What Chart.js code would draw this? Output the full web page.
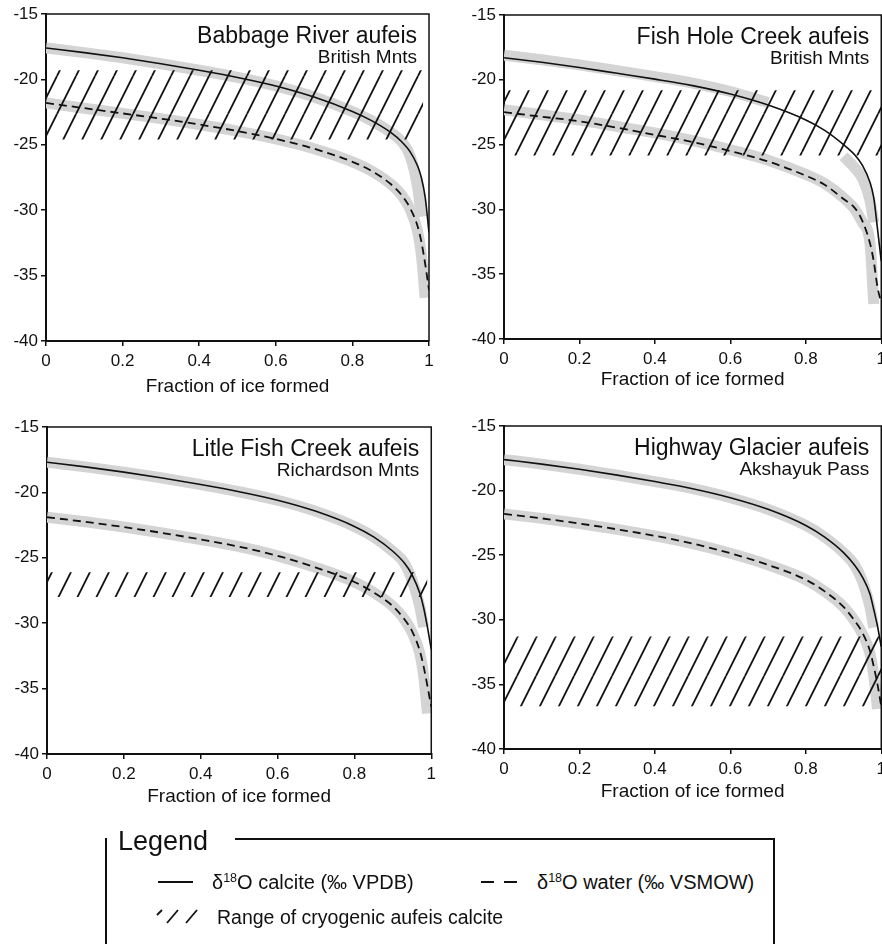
<!DOCTYPE html>
<html>
<head>
<meta charset="utf-8">
<script src="https://cdn.jsdelivr.net/npm/chart.js@4.4.1/dist/chart.umd.min.js"></script>
<style>
  html, body { margin: 0; padding: 0; width: 882px; height: 944px; overflow: hidden; background: #fff; }
  body { position: relative; font-family: "Liberation Sans", Arial, sans-serif; color: #111; }
  .panel { position: absolute; }
  #legendBox { position: absolute; left: 105px; top: 838px; width: 666px; height: 140px;
    border-left: 2px solid #111; border-top: 2px solid #111; border-right: 2px solid #111; }
  #legendTitle { position: absolute; left: 107px; top: 826px; width: 128px; height: 31px; background: #fff;
    font-size: 27px; line-height: 31px; padding-left: 11px; box-sizing: border-box; }
  .item { position: absolute; font-size: 20px; line-height: 22px; white-space: nowrap; }
  .item sup { font-size: 12.5px; vertical-align: 7px; line-height: 0; }
  .swatch { position: absolute; background: #111; height: 2px; }
</style>
</head>
<body>
<div class="panel" style="left:0;top:0"><canvas id="babbage" width="441" height="410"></canvas></div>
<div class="panel" style="left:441px;top:0"><canvas id="fishHole" width="450" height="410"></canvas></div>
<div class="panel" style="left:0;top:410px"><canvas id="litleFish" width="441" height="420"></canvas></div>
<div class="panel" style="left:441px;top:410px"><canvas id="highway" width="450" height="420"></canvas></div>

<div id="legendBox"></div>
<div id="legendTitle">Legend</div>
<div class="swatch" style="left:158px;top:881px;width:35px"></div>
<div class="item" style="left:212px;top:871px">&delta;<sup>18</sup>O calcite (&permil; VPDB)</div>
<div class="swatch" style="left:481px;top:881px;width:13px"></div>
<div class="swatch" style="left:504px;top:881px;width:13px"></div>
<div class="item" style="left:537px;top:871px">&delta;<sup>18</sup>O water (&permil; VSMOW)</div>
<svg style="position:absolute;left:153px;top:909px" width="50" height="16">
  <line x1="4" y1="6" x2="9" y2="1" stroke="#111" stroke-width="1.8"/>
  <line x1="14" y1="14" x2="25" y2="1" stroke="#111" stroke-width="1.8"/>
  <line x1="33" y1="14" x2="44" y2="1" stroke="#111" stroke-width="1.8"/>
</svg>
<div class="item" style="left:217px;top:906px;font-size:19.5px">Range of cryogenic aufeis calcite</div>

<script>
// fraction of ice formed, shared by all four panels
const fraction = [0, 0.1, 0.2, 0.3, 0.4, 0.5, 0.6, 0.7, 0.8, 0.85, 0.9, 0.93, 0.95, 0.97, 0.98, 0.99, 1];
const xTicks = [0, 0.2, 0.4, 0.6, 0.8, 1];
const yTicks = [-40, -35, -30, -25, -20, -15];

// Babbage River aufeis
const babbageCalcite = [-17.6, -17.95, -18.35, -18.8, -19.3, -19.85, -20.5, -21.35, -22.45, -23.15, -24.05, -24.8, -25.5, -26.6, -27.5, -29.0, -31.7];
const babbageWater = [-21.8, -22.2, -22.6, -23.0, -23.45, -23.95, -24.55, -25.3, -26.3, -27.0, -28.0, -28.9, -29.8, -31.2, -32.4, -34.1, -36.1];
const babbageCalciteBand = [-17.6, -17.95, -18.35, -18.8, -19.3, -19.85, -20.5, -21.35, -22.45, -23.15, -24.05, -24.8, -25.8, -28.2, -30.5, null, null];
const babbageWaterBand = [-21.8, -22.2, -22.6, -23.0, -23.45, -23.95, -24.55, -25.3, -26.3, -27.0, -28.0, -28.9, -29.9, -31.6, -33.4, -36.7, null];
const babbageRange = [-19.3, -24.6];
const babbageRangeX = [0, 0.985];

// Fish Hole Creek aufeis
const fishHoleCalcite = [-18.3, -18.65, -19.05, -19.5, -19.95, -20.45, -21.1, -21.95, -23.1, -23.9, -25.0, -25.8, -26.6, -27.9, -29.1, -31.5, -34.0];
const fishHoleWater = [-22.5, -22.85, -23.2, -23.7, -24.25, -24.8, -25.5, -26.3, -27.4, -28.1, -29.2, -29.9, -30.9, -32.6, -34.0, -36.0, -37.2];
const fishHoleCalciteBand = [-18.1, -18.45, -18.85, -19.3, -19.75, -20.25, -20.9, -21.75, null, null, -25.9, -26.8, -27.6, -29.3, -31.0, null, null];
const fishHoleWaterBand = [-22.3, -22.7, -23.1, -23.6, -24.1, -24.7, -25.4, -26.2, -27.3, -28.0, -29.1, -30.0, -31.0, -32.6, -37.3, null, null];
const fishHoleRange = [-20.8, -25.85];
const fishHoleRangeX = [0, 1];

// Litle Fish Creek aufeis
const litleFishCalcite = [-17.7, -18.05, -18.45, -18.9, -19.4, -19.95, -20.6, -21.45, -22.6, -23.4, -24.5, -25.4, -26.3, -27.7, -28.8, -30.3, -32.0];
const litleFishWater = [-21.9, -22.25, -22.65, -23.1, -23.6, -24.15, -24.85, -25.75, -26.85, -27.65, -28.7, -29.7, -30.6, -32.1, -33.3, -34.8, -36.4];
const litleFishCalciteBand = [-17.7, -18.05, -18.45, -18.9, -19.4, -19.95, -20.6, -21.45, -22.6, -23.4, -24.5, -25.4, -26.7, -28.7, -30.3, null, null];
const litleFishWaterBand = [-21.9, -22.25, -22.65, -23.1, -23.6, -24.15, -24.85, -25.75, -26.85, -27.65, -28.7, -29.7, -30.7, -32.3, -34.0, -36.9, null];
const litleFishRange = [-26.1, -28.0];
const litleFishRangeX = [0, 0.99];

// Highway Glacier aufeis
const highwayCalcite = [-17.6, -17.95, -18.35, -18.8, -19.3, -19.85, -20.55, -21.45, -22.7, -23.6, -24.8, -25.8, -26.7, -28.0, -29.2, -30.5, -32.1];
const highwayWater = [-21.8, -22.15, -22.55, -23.0, -23.5, -24.1, -24.85, -25.75, -26.9, -27.8, -29.0, -30.1, -31.0, -32.4, -33.6, -35.0, -36.7];
const highwayCalciteBand = [-17.6, -17.95, -18.35, -18.8, -19.3, -19.85, -20.55, -21.45, -22.7, -23.6, -24.8, -25.8, -27.0, -29.0, -30.6, null, null];
const highwayWaterBand = [-21.8, -22.15, -22.55, -23.0, -23.5, -24.1, -24.85, -25.75, -26.9, -27.8, -29.0, -30.1, -31.1, -32.6, -34.3, -36.9, null];
const highwayRange = [-31.3, -36.7];
const highwayRangeX = [0, 1];

Chart.defaults.font.family = '"Liberation Sans", Arial, sans-serif';
Chart.defaults.color = '#111';

const ink = '#111';
const bandGrey = '#d4d4d4';

// frame on top/right plus site name in the upper right corner
const framePlugin = {
  id: 'frame',
  afterDraw(chart, args, opts) {
    const { ctx, chartArea: a } = chart;
    ctx.save();
    ctx.strokeStyle = ink;
    ctx.lineWidth = 1.5;
    ctx.beginPath();
    ctx.moveTo(a.left, a.top);
    ctx.lineTo(a.right, a.top);
    ctx.lineTo(a.right, a.bottom);
    ctx.stroke();
    ctx.fillStyle = ink;
    ctx.textAlign = 'right';
    ctx.font = '23px "Liberation Sans", Arial, sans-serif';
    ctx.fillText(opts.name, a.right - opts.inset, a.top + 29);
    ctx.font = '19px "Liberation Sans", Arial, sans-serif';
    ctx.fillText(opts.place, a.right - opts.inset, a.top + 49);
    ctx.restore();
  }
};

function hatchFor(ctx) {
  const tile = document.createElement('canvas');
  tile.width = 19;
  tile.height = 38;
  const g = tile.getContext('2d');
  g.strokeStyle = ink;
  g.lineWidth = 1.8;
  for (const dx of [-19, 0, 19]) {
    g.beginPath();
    g.moveTo(dx, 38);
    g.lineTo(dx + 19, 0);
    g.stroke();
  }
  return ctx.createPattern(tile, 'repeat');
}

function drawPanel(id, p) {
  const ctx = document.getElementById(id).getContext('2d');
  const pts = ys => fraction.map((x, i) => ({ x: x, y: ys[i] }));
  const rangePts = v => p.rangeX.map(x => ({ x: x, y: v }));
  const line = { pointRadius: 0, fill: false, cubicInterpolationMode: 'monotone' };

  new Chart(ctx, {
    type: 'line',
    data: {
      datasets: [
        { ...line, label: 'calcite', data: pts(p.calcite), borderColor: ink, borderWidth: 1.6, order: 0 },
        { ...line, label: 'water', data: pts(p.water), borderColor: ink, borderWidth: 1.8, borderDash: [8, 5], order: 0 },
        { label: 'range', data: rangePts(p.range[0]), pointRadius: 0, borderWidth: 0, fill: '+1', backgroundColor: hatchFor(ctx), order: 1 },
        { label: 'range low', data: rangePts(p.range[1]), pointRadius: 0, borderWidth: 0, fill: false, order: 1 },
        { ...line, label: 'calcite band', data: pts(p.calciteBand), borderColor: bandGrey, borderWidth: 11, borderCapStyle: 'butt', order: 2 },
        { ...line, label: 'water band', data: pts(p.waterBand), borderColor: bandGrey, borderWidth: 11, borderCapStyle: 'butt', order: 2 }
      ]
    },
    options: {
      responsive: false,
      animation: false,
      layout: { padding: { top: p.top, right: p.right, left: 0, bottom: 0 } },
      plugins: {
        legend: { display: false },
        tooltip: { enabled: false },
        frame: { name: p.name, place: p.place, inset: 12 }
      },
      scales: {
        x: {
          type: 'linear',
          min: 0,
          max: 1,
          afterBuildTicks: s => { s.ticks = xTicks.map(v => ({ value: v })); },
          afterFit: s => { s.height = p.xHeight; },
          ticks: { font: { size: 17 }, color: ink, padding: 5, maxRotation: 0, autoSkip: false, callback: v => String(v) },
          grid: { drawOnChartArea: false, tickLength: 5, color: ink, lineWidth: 1.5 },
          border: { color: ink, width: 2 },
          title: { display: true, text: 'Fraction of ice formed', font: { size: 19 }, color: ink, padding: { top: 0, bottom: p.titlePad } }
        },
        y: {
          min: -40,
          max: -15,
          afterBuildTicks: s => { s.ticks = yTicks.map(v => ({ value: v })); },
          afterFit: s => { s.width = p.yWidth; },
          ticks: { font: { size: 17 }, color: ink, padding: 3, callback: v => String(v) },
          grid: { drawOnChartArea: false, tickLength: 5, color: ink, lineWidth: 1.5 },
          border: { color: ink, width: 2 }
        }
      }
    },
    plugins: [framePlugin]
  });
}

drawPanel('babbage', {
  name: 'Babbage River aufeis', place: 'British Mnts',
  calcite: babbageCalcite, water: babbageWater,
  calciteBand: babbageCalciteBand, waterBand: babbageWaterBand,
  range: babbageRange, rangeX: babbageRangeX,
  top: 14, right: 12, yWidth: 46, xHeight: 69, titlePad: 12
});
drawPanel('fishHole', {
  name: 'Fish Hole Creek aufeis', place: 'British Mnts',
  calcite: fishHoleCalcite, water: fishHoleWater,
  calciteBand: fishHoleCalciteBand, waterBand: fishHoleWaterBand,
  range: fishHoleRange, rangeX: fishHoleRangeX,
  top: 15, right: 6, yWidth: 63, xHeight: 71, titlePad: 19
});
drawPanel('litleFish', {
  name: 'Litle Fish Creek aufeis', place: 'Richardson Mnts',
  calcite: litleFishCalcite, water: litleFishWater,
  calciteBand: litleFishCalciteBand, waterBand: litleFishWaterBand,
  range: litleFishRange, rangeX: litleFishRangeX,
  top: 17, right: 8, yWidth: 47, xHeight: 76, titlePad: 22
});
drawPanel('highway', {
  name: 'Highway Glacier aufeis', place: 'Akshayuk Pass',
  calcite: highwayCalcite, water: highwayWater,
  calciteBand: highwayCalciteBand, waterBand: highwayWaterBand,
  range: highwayRange, rangeX: highwayRangeX,
  top: 16, right: 6, yWidth: 63, xHeight: 81, titlePad: 27
});
</script>
</body>
</html>
